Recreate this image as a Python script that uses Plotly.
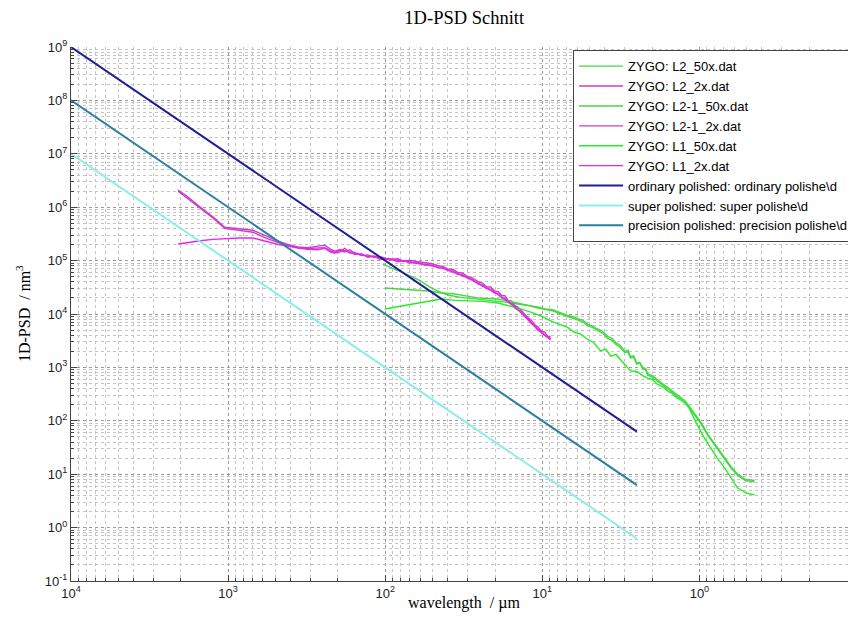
import plotly.graph_objects as go

# ---------------- text ----------------
title_text = "1D-PSD Schnitt"
x_label = "wavelength  / µm"
y_label = "1D-PSD  / nm<sup>3</sup>"

x_tick_vals = [1e4, 1e3, 1e2, 1e1, 1e0, 1e-1]
x_tick_text = ["10<sup>4</sup>", "10<sup>3</sup>", "10<sup>2</sup>", "10<sup>1</sup>",
               "10<sup>0</sup>", "10<sup>-1</sup>"]
y_tick_vals = [1e-1, 1e0, 1e1, 1e2, 1e3, 1e4, 1e5, 1e6, 1e7, 1e8, 1e9]
y_tick_text = ["10<sup>-1</sup>", "10<sup>0</sup>", "10<sup>1</sup>", "10<sup>2</sup>",
               "10<sup>3</sup>", "10<sup>4</sup>", "10<sup>5</sup>", "10<sup>6</sup>",
               "10<sup>7</sup>", "10<sup>8</sup>", "10<sup>9</sup>"]

# ---------------- data: 2x objective (magenta) ----------------
wl_2x = [2080, 1800, 1500, 1250, 1050, 850, 695, 558, 480, 417, 360, 311, 270, 242, 220, 209,
         195, 181, 168, 156, 142, 129, 118, 107, 95, 83, 76, 70, 62, 56, 51, 46, 43, 40, 37,
         34.5, 32, 30, 28.5, 26.9, 25.5, 24, 22.6, 21.3, 20.2, 19, 18.1, 17.3, 16.5, 15.7, 15,
         14.3, 13.6, 12.9, 12.3, 11.7, 11.2, 10.7, 10.2, 9.66, 9.25, 8.85]

psd_L2_2x = [2.1e6, 1.55e6, 1.0e6, 6.6e5, 4.2e5, 3.9e5, 3.7e5, 2.8e5, 2.3e5, 2.0e5, 1.8e5, 1.75e5,
             1.85e5, 1.95e5, 1.6e5, 1.5e5, 1.62e5, 1.55e5, 1.38e5, 1.42e5, 1.25e5, 1.28e5,
             1.15e5, 1.18e5, 1.05e5, 1.08e5, 9.6e4, 1.02e5, 9.5e4, 9.0e4, 8.8e4, 8.0e4, 7.8e4,
             7.0e4, 6.8e4, 6.0e4, 5.8e4, 5.0e4, 4.9e4, 4.4e4, 4.0e4, 3.8e4, 3.2e4, 3.2e4, 2.7e4,
             2.6e4, 2.2e4, 2.2e4, 1.8e4, 1.75e4, 1.45e4, 1.35e4, 1.15e4, 1.0e4, 8.5e3, 7.6e3,
             6.2e3, 5.8e3, 4.8e3, 4.6e3, 3.8e3, 3.7e3]

psd_L21_2x = [2.0e6, 1.45e6, 9.5e5, 6.3e5, 4.0e5, 3.7e5, 3.4e5, 2.55e5, 2.2e5, 1.9e5, 1.72e5,
              1.62e5, 1.6e5, 1.7e5, 1.42e5, 1.38e5, 1.45e5, 1.7e5, 1.45e5, 1.3e5, 1.35e5, 1.15e5,
              1.2e5, 1.05e5, 1.1e5, 9.5e4, 1.0e5, 9.0e4, 9.2e4, 8.2e4, 8.3e4, 7.4e4, 7.2e4, 6.5e4,
              6.4e4, 5.5e4, 5.4e4, 4.7e4, 4.4e4, 4.1e4, 3.6e4, 3.5e4, 3.0e4, 2.8e4, 2.5e4,
              2.35e4, 2.0e4, 1.95e4, 1.65e4, 1.55e4, 1.3e4, 1.2e4, 1.05e4, 8.8e3, 7.8e3, 6.6e3,
              5.8e3, 5.0e3, 4.5e3, 3.9e3, 3.6e3, 3.3e3]

psd_L1_2x = [2.05e5, 2.2e5, 2.35e5, 2.5e5, 2.6e5, 2.65e5, 2.65e5, 2.2e5, 2.0e5, 1.9e5, 1.75e5,
             1.68e5, 1.7e5, 1.75e5, 1.5e5, 1.42e5, 1.55e5, 1.45e5, 1.6e5, 1.35e5, 1.28e5, 1.2e5,
             1.22e5, 1.1e5, 1.06e5, 1.02e5, 9.8e4, 9.6e4, 8.8e4, 8.6e4, 8.0e4, 7.7e4, 7.3e4,
             6.8e4, 6.0e4, 5.8e4, 5.1e4, 4.9e4, 4.6e4, 4.0e4, 3.8e4, 3.3e4, 3.1e4, 2.9e4, 2.6e4,
             2.3e4, 2.1e4, 1.9e4, 1.7e4, 1.5e4, 1.4e4, 1.2e4, 1.1e4, 9.0e3, 8.3e3, 6.8e3, 6.4e3,
             5.2e3, 4.9e3, 4.0e3, 3.9e3, 3.4e3]

# ---------------- data: 50x objective (green) ----------------
wl_L2_50x = [103.5, 85, 71.8, 60, 52, 45, 40, 33, 25.8, 22, 19.2, 16.5, 14.3, 12.3, 10.7, 9.6,
             8.59, 7.6, 6.89, 6.4, 6.0, 5.5, 5.14, 4.8, 4.5, 4.15, 3.84, 3.6, 3.4, 3.2, 2.99,
             2.85, 2.75, 2.62, 2.51, 2.4, 2.3, 2.2, 2.14, 2.0, 1.85, 1.72, 1.59, 1.5, 1.4, 1.32,
             1.24, 1.15, 1.07, 0.97, 0.887, 0.78, 0.692, 0.63, 0.571, 0.51, 0.446]
psd_L2_50x = [8.6e4, 6.8e4, 5.4e4, 4.2e4, 3.2e4, 2.6e4, 2.27e4, 2.05e4, 1.91e4, 1.85e4, 1.75e4,
              1.65e4, 1.54e4, 1.45e4, 1.35e4, 1.25e4, 1.2e4, 1.05e4, 9.4e3, 9.0e3, 8.2e3, 7.6e3,
              6.4e3, 6.0e3, 5.3e3, 4.8e3, 3.8e3, 3.5e3, 2.9e3, 2.6e3, 2.0e3, 2.1e3, 1.6e3,
              1.65e3, 1.2e3, 1.25e3, 1.0e3, 9.5e2, 7.6e2, 7.0e2, 5.8e2, 5.0e2, 4.2e2, 3.7e2,
              3.1e2, 2.8e2, 2.4e2, 1.8e2, 1.35e2, 90, 57, 34, 21, 14, 10, 8.0, 7.6]

wl_L21_50x = [100.7, 85, 71.8, 60, 52, 45, 36, 30, 25.8, 22, 19.2, 16.5, 14.3, 12.3, 10.7, 9.6,
              8.59, 7.6, 6.89, 6.4, 6.0, 5.5, 5.14, 4.8, 4.5, 4.15, 3.84, 3.6, 3.4, 3.2, 2.99,
              2.85, 2.75, 2.62, 2.51, 2.4, 2.3, 2.2, 2.14, 2.0, 1.85, 1.72, 1.59, 1.5, 1.4, 1.32,
              1.24, 1.15, 1.07, 0.97, 0.887, 0.78, 0.692, 0.63, 0.571, 0.51, 0.446]
psd_L21_50x = [3.07e4, 2.95e4, 2.81e4, 2.75e4, 2.7e4, 2.5e4, 2.37e4, 2.15e4, 2.0e4, 1.95e4,
               1.91e4, 1.75e4, 1.61e4, 1.45e4, 1.29e4, 1.22e4, 1.15e4, 1.0e4, 9.0e3, 8.6e3,
               7.8e3, 7.0e3, 6.0e3, 5.6e3, 5.0e3, 4.4e3, 3.5e3, 3.2e3, 2.7e3, 2.4e3, 1.9e3,
               1.95e3, 1.5e3, 1.55e3, 1.15e3, 1.2e3, 9.5e2, 9.0e2, 7.2e2, 6.6e2, 5.5e2, 4.8e2,
               4.0e2, 3.5e2, 2.9e2, 2.6e2, 2.2e2, 1.7e2, 1.25e2, 85, 54, 32, 20, 13, 9.5, 7.6, 7.2]

wl_L1_50x = [100.7, 80, 66.7, 55, 44, 36, 29.8, 24, 19.2, 16.5, 14.3, 12, 10.2, 8.59, 7.6, 6.89,
             6.3, 5.7, 5.1, 4.7, 4.25, 3.95, 3.67, 3.4, 3.17, 2.95, 2.74, 2.5, 2.3, 2.14, 2.0,
             1.85, 1.72, 1.59, 1.5, 1.4, 1.3, 1.19, 1.1, 1.03, 0.94, 0.849, 0.77, 0.692, 0.63,
             0.571, 0.5, 0.446]
psd_L1_50x = [1.24e4, 1.4e4, 1.54e4, 1.7e4, 1.91e4, 1.8e4, 1.75e4, 1.72e4, 1.61e4, 1.45e4,
              1.29e4, 1.1e4, 9.2e3, 7.1e3, 6.2e3, 5.6e3, 4.6e3, 4.2e3, 3.3e3, 2.9e3, 2.03e3,
              2.2e3, 1.63e3, 1.75e3, 1.38e3, 1.1e3, 8.6e2, 8.4e2, 7.0e2, 6.3e2, 6.0e2, 4.8e2,
              4.4e2, 3.6e2, 3.3e2, 2.7e2, 2.4e2, 1.98e2, 1.2e2, 83, 50, 31, 20, 13.1, 8.5, 5.5,
              4.4, 4.1]

# ---------------- data: reference surface-quality lines ----------------
wl_ref = [1e4, 2.5]
psd_ordinary = [1e9, 62.5]
psd_super = [1e7, 0.625]
psd_precision = [1e8, 6.25]

# ---------------- styling ----------------
C_L2_50 = "#45D845"
C_L2_2 = "#C83FC8"
C_L1_50 = "#22EE22"
C_L1_2 = "#EE22EE"
C_ORD = "#1E1E96"
C_SUP = "#8CEDED"
C_PRE = "#2A7FA2"

series = [
    ("ZYGO: L2_50x.dat", wl_L2_50x, psd_L2_50x, C_L2_50, 1.4),
    ("ZYGO: L2_2x.dat", wl_2x, psd_L2_2x, C_L2_2, 1.4),
    ("ZYGO: L2-1_50x.dat", wl_L21_50x, psd_L21_50x, C_L2_50, 1.4),
    ("ZYGO: L2-1_2x.dat", wl_2x, psd_L21_2x, C_L2_2, 1.4),
    ("ZYGO: L1_50x.dat", wl_L1_50x, psd_L1_50x, C_L1_50, 1.4),
    ("ZYGO: L1_2x.dat", wl_2x, psd_L1_2x, C_L1_2, 1.4),
    ("ordinary polished: ordinary polishe\\d", wl_ref, psd_ordinary, C_ORD, 2),
    ("super polished: super polishe\\d", wl_ref, psd_super, C_SUP, 2),
    ("precision polished: precision polishe\\d", wl_ref, psd_precision, C_PRE, 2),
]

fig = go.Figure()
for name, xs, ys, col, w in series:
    fig.add_trace(go.Scatter(x=xs, y=ys, mode="lines", name=name,
                             line=dict(color=col, width=w)))

minor_x = [m * 10 ** e for e in range(-1, 4) for m in range(2, 10)]
minor_y = [m * 10 ** e for e in range(-1, 9) for m in range(2, 10)]

grid_major = "#9a9a9a"
grid_minor = "#c4c4c4"
axis_font = dict(family="Liberation Sans, Arial, sans-serif", size=13, color="#222")

fig.update_xaxes(type="log", range=[4, -1.003], autorange=False, automargin=False,
                 tickmode="array", tickvals=x_tick_vals, ticktext=x_tick_text,
                 ticks="inside", ticklen=6, tickcolor="#444",
                 showline=True, linecolor="#444", linewidth=1, mirror=False,
                 showgrid=True, gridcolor=grid_major, griddash="dot", gridwidth=1,
                 zeroline=False, tickfont=axis_font,
                 minor=dict(tickmode="array", tickvals=minor_x, ticks="inside", ticklen=3,
                            tickcolor="#444", showgrid=True, gridcolor=grid_minor,
                            griddash="dot", gridwidth=1))
fig.update_yaxes(type="log", range=[-1, 9], autorange=False, automargin=False,
                 tickmode="array", tickvals=y_tick_vals, ticktext=y_tick_text,
                 ticks="inside", ticklen=6, tickcolor="#444",
                 showline=True, linecolor="#444", linewidth=1, mirror=False,
                 showgrid=True, gridcolor=grid_major, griddash="dot", gridwidth=1,
                 zeroline=False, tickfont=axis_font,
                 minor=dict(tickmode="array", tickvals=minor_y, ticks="inside", ticklen=3,
                            tickcolor="#444", showgrid=True, gridcolor=grid_minor,
                            griddash="dot", gridwidth=1))

serif = "Liberation Serif, Times New Roman, serif"
fig.update_layout(
    width=856, height=617,
    margin=dict(l=63, r=7, t=39, b=44, autoexpand=False),
    paper_bgcolor="white", plot_bgcolor="white",
    showlegend=True,
    title=dict(text=title_text, x=0.533, xanchor="center", yref="container",
               y=0.984, yanchor="middle",
               font=dict(family=serif, size=18.5, color="black")),
    legend=dict(x=0.995, y=0.994, xanchor="right", yanchor="top",
                bgcolor="white", bordercolor="#444", borderwidth=1,
                font=dict(family="Liberation Sans, Arial, sans-serif", size=13, color="black"),
                tracegroupgap=0, itemwidth=44),
    annotations=[
        dict(text=x_label, xref="paper", yref="paper", x=0.5, y=-0.041,
             xanchor="center", yanchor="middle", showarrow=False,
             font=dict(family=serif, size=16, color="black")),
        dict(text=y_label, xref="paper", yref="paper", x=-0.061, y=0.5,
             xanchor="center", yanchor="middle", textangle=-90, showarrow=False,
             font=dict(family=serif, size=16, color="black")),
        dict(text="OSU", xref="paper", yref="paper", x=0.955, y=-0.052,
             xanchor="center", yanchor="top", showarrow=False,
             font=dict(family="Liberation Sans, Arial, sans-serif", size=46, color="#111")),
    ],
)

fig.write_html("out.html")
